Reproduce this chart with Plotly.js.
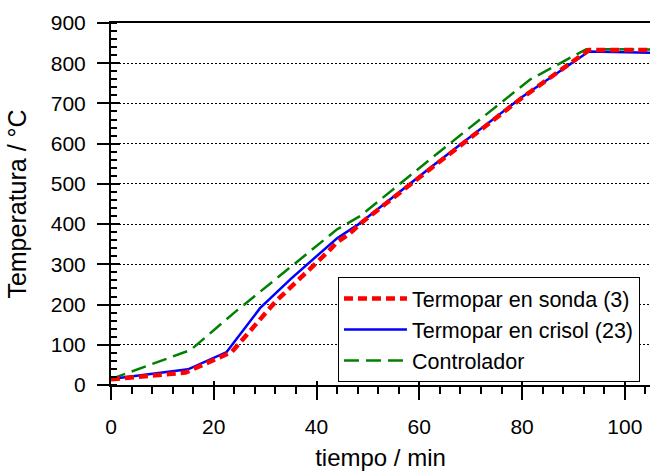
<!DOCTYPE html>
<html>
<head>
<meta charset="utf-8">
<script src="https://cdn.plot.ly/plotly-3.0.1.min.js"></script>
<style>html,body{margin:0;padding:0;background:#fff;}#chart{width:650px;height:471px;}</style>
</head>
<body>
<div id="chart"></div>
<script>
// Data
var sondaT = [0, 14.5, 23.5, 32, 42.3, 44, 46.5, 49, 62, 80, 93, 105];
var sondaV = [14, 31, 82, 207, 332, 355, 377, 406, 536, 714, 833, 833];
var crisolT = [0, 15, 22.5, 29, 35, 44, 48, 62, 80, 93, 105];
var crisolV = [15, 39, 82, 191, 264, 365, 398, 539, 716, 829, 826];
var ctrlT = [0, 15.5, 24, 44, 48.5, 62, 81.5, 92.5, 105];
var ctrlV = [15, 87, 180, 387, 420, 560, 759, 835, 834];
var names = ['Termopar en sonda (3)', 'Termopar en crisol (23)', 'Controlador'];
var xTicks = [0, 20, 40, 60, 80, 100];
var yTicks = [0, 100, 200, 300, 400, 500, 600, 700, 800, 900];

var FONT = 'Liberation Sans, Arial, Helvetica, sans-serif';

var traces = [
  {x: ctrlT, y: ctrlV, name: names[2], mode: 'lines', legendgroup: 'c', legendrank: 3,
   line: {color: '#008000', width: 2.5, dash: '15px,7px'}},
  {x: crisolT, y: crisolV, name: names[1], mode: 'lines', legendgroup: 'b', legendrank: 2,
   line: {color: '#0000ff', width: 2.5}},
  {x: sondaT, y: sondaV, name: names[0], mode: 'lines', legendgroup: 'a', legendrank: 1,
   line: {color: '#ff0000', width: 4.5, dash: '9px,5px'}},
  {x: [], y: [], xaxis: 'x2', yaxis: 'y2', showlegend: false, hoverinfo: 'skip'}
];

var layout = {
  width: 650, height: 471,
  margin: {l: 111, r: 0, t: 23, b: 86},
  paper_bgcolor: '#fff', plot_bgcolor: '#fff',
  font: {family: FONT, size: 21, color: '#000'},
  showlegend: true,
  legend: {
    x: 0.4211, y: 0.298, xanchor: 'left', yanchor: 'top',
    bgcolor: '#fff', bordercolor: '#000', borderwidth: 1,
    font: {family: FONT, size: 21.5, color: '#000'},
    traceorder: 'grouped', tracegroupgap: 0, itemwidth: 63
  },
  xaxis: {
    range: [0, 104.9], tickvals: xTicks, ticktext: xTicks.map(String),
    ticks: 'outside', ticklen: 13, tickwidth: 2, tickcolor: '#000',
    minor: {dtick: 4, tick0: 0, ticks: 'outside', ticklen: 7, tickwidth: 2, tickcolor: '#000', showgrid: false},
    showline: true, linewidth: 2, linecolor: '#000', mirror: true,
    showgrid: false, zeroline: false, ticklabelstandoff: 9,
    tickfont: {family: FONT, size: 21},
    title: {text: 'tiempo / min', font: {family: FONT, size: 24}, standoff: 12}
  },
  yaxis: {
    range: [0, 900], tickvals: yTicks, ticktext: yTicks.map(String),
    ticks: 'outside', ticklen: 12, tickwidth: 2, tickcolor: '#000',
    minor: {dtick: 20, tick0: 0, ticks: 'inside', ticklen: 6, tickwidth: 2, tickcolor: '#000', showgrid: false},
    showline: true, linewidth: 2, linecolor: '#000',
    showgrid: true, gridcolor: '#000', gridwidth: 1, griddash: '2px,2px',
    zeroline: false, ticklabelstandoff: 7,
    tickfont: {family: FONT, size: 21},
    title: {text: 'Temperatura / °C', font: {family: FONT, size: 25}, standoff: 17}
  },
  xaxis2: {
    overlaying: 'x', anchor: 'y2', range: [0, 104.9], tickvals: xTicks,
    ticks: 'inside', ticklen: 4, tickwidth: 2, tickcolor: '#000',
    showticklabels: false, showgrid: false, showline: false, zeroline: false
  },
  yaxis2: {
    overlaying: 'y', anchor: 'x2', range: [0, 900], tickvals: yTicks,
    ticks: 'inside', ticklen: 9, tickwidth: 2, tickcolor: '#000',
    showticklabels: false, showgrid: false, showline: false, zeroline: false
  }
};

Plotly.newPlot('chart', traces, layout, {displayModeBar: false, staticPlot: true});
</script>
</body>
</html>
